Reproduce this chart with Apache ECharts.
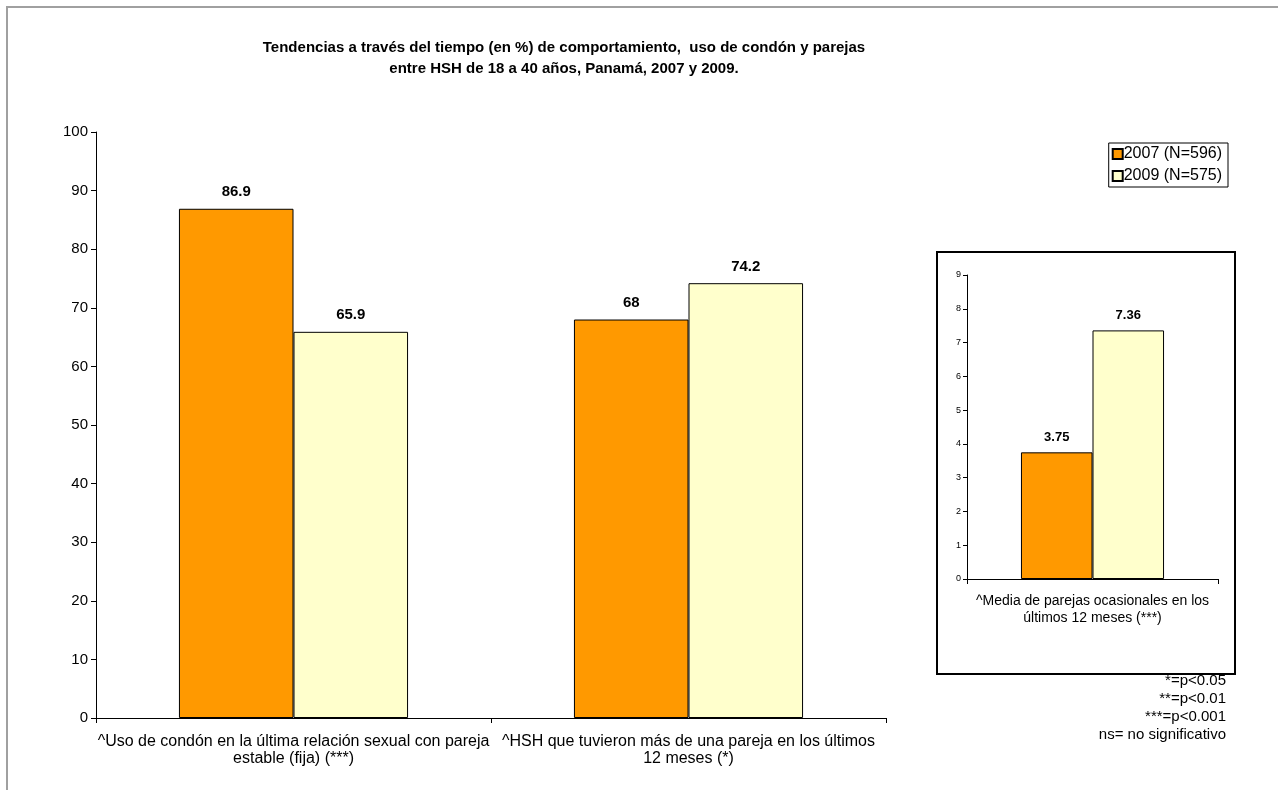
<!DOCTYPE html>
<html style="height: 100%">
<head>
    <meta charset="utf-8">
    <script src="https://cdn.jsdelivr.net/npm/echarts@6/dist/echarts.min.js"></script>
</head>
<body style="height: 100%;margin: 0;background: #fff">
<div id="chart1" style="width: 1278px; height: 790px;"></div>
<script type="text/javascript">
// datos del grafico principal
var categorias = ['^Uso de condón en la última relación sexual con pareja\nestable (fija) (***)',
    '^HSH que tuvieron más de una pareja en los últimos\n12 meses (*)'];
var valores2007 = [86.9, 68];
var valores2009 = [65.9, 74.2];
// recuadro: media de parejas
var categoriaMedia = ['^Media de parejas ocasionales en los\núltimos 12 meses (***)'];
var media2007 = [3.75];
var media2009 = [7.36];
var nombres = ['2007 (N=596)', '2009 (N=575)'];
var titulo = ['Tendencias a través del tiempo (en %) de comportamiento,  uso de condón y parejas',
    'entre HSH de 18 a 40 años, Panamá, 2007 y 2009.'];
var notas = ['*=p<0.05', '**=p<0.01', '***=p<0.001', 'ns= no significativo'];

var fuente = 'Liberation Sans, Arial, sans-serif';
var naranja = '#FF9900', crema = '#FFFFCC';

var myChart = echarts.init(document.getElementById('chart1'));

var tituloGraphic = titulo.map(function (t, i) {
    return {
        type: 'text', x: 564, y: 40 + i * 21, silent: true,
        style: {text: t, font: 'bold 15px ' + fuente, fill: '#000', textAlign: 'center', textVerticalAlign: 'top'}
    };
});
var notasGraphic = notas.map(function (t, i) {
    return {
        type: 'text', x: 1226, y: 673 + i * 18, silent: true,
        style: {text: t, font: '15px ' + fuente, fill: '#000', textAlign: 'right', textVerticalAlign: 'top'}
    };
});

var option = {
    animation: false,
    textStyle: {fontFamily: fuente},
    legend: {
        data: nombres,
        orient: 'vertical',
        right: 50, top: 143,
        itemWidth: 10, itemHeight: 10, itemGap: 6,
        padding: [3, 6, 3, 3],
        borderColor: '#000', borderWidth: 1,
        icon: 'rect',
        textStyle: {fontSize: 16, color: '#000', fontFamily: fuente, padding: [0, 0, 0, -4]}
    },
    graphic: [
        {
            type: 'rect', x: 7, y: 7, silent: true,
            shape: {width: 1300, height: 800},
            style: {fill: 'none', stroke: '#a0a0a0', lineWidth: 2}
        },
        {
            type: 'rect', x: 937, y: 252, silent: true,
            shape: {width: 298, height: 422},
            style: {fill: 'none', stroke: '#000', lineWidth: 2}
        }
    ].concat(tituloGraphic, notasGraphic),
    grid: [
        {left: 96, right: 392, top: 132, bottom: 72},
        {left: 967, right: 60, top: 275, bottom: 211}
    ],
    xAxis: [
        {
            type: 'category', gridIndex: 0, data: categorias,
            axisLine: {lineStyle: {color: '#000', width: 1}},
            axisTick: {show: true, length: 5, lineStyle: {color: '#000'}},
            axisLabel: {color: '#000', fontSize: 16, lineHeight: 17, margin: 15, interval: 0}
        },
        {
            type: 'category', gridIndex: 1, data: categoriaMedia,
            axisLine: {lineStyle: {color: '#000', width: 1}},
            axisTick: {show: true, length: 5, lineStyle: {color: '#000'}},
            axisLabel: {color: '#000', fontSize: 14, lineHeight: 17, margin: 14, interval: 0}
        }
    ],
    yAxis: [
        {
            type: 'value', gridIndex: 0, min: 0, max: 100, interval: 10,
            axisLine: {show: true, lineStyle: {color: '#000'}},
            axisTick: {show: true, length: 5, lineStyle: {color: '#000'}},
            axisLabel: {color: '#000', fontSize: 15, margin: 8},
            splitLine: {show: false}
        },
        {
            type: 'value', gridIndex: 1, min: 0, max: 9, interval: 1,
            axisLine: {show: true, lineStyle: {color: '#000'}},
            axisTick: {show: true, length: 4, lineStyle: {color: '#000'}},
            axisLabel: {color: '#000', fontSize: 9, margin: 6},
            splitLine: {show: false}
        }
    ],
    series: [
        {
            name: nombres[0], type: 'bar', xAxisIndex: 0, yAxisIndex: 0,
            data: valores2007, barGap: '0%', barCategoryGap: '42%',
            itemStyle: {color: naranja, borderColor: '#000', borderWidth: 1},
            label: {show: true, position: 'top', distance: 9, fontSize: 15, fontWeight: 'bold', color: '#000'}
        },
        {
            name: nombres[1], type: 'bar', xAxisIndex: 0, yAxisIndex: 0,
            data: valores2009, barGap: '0%', barCategoryGap: '42%',
            itemStyle: {color: crema, borderColor: '#000', borderWidth: 1},
            label: {show: true, position: 'top', distance: 9, fontSize: 15, fontWeight: 'bold', color: '#000'}
        },
        {
            name: nombres[0], type: 'bar', xAxisIndex: 1, yAxisIndex: 1,
            data: media2007, barGap: '0%', barCategoryGap: '43%',
            itemStyle: {color: naranja, borderColor: '#000', borderWidth: 1},
            label: {show: true, position: 'top', distance: 8, fontSize: 13, fontWeight: 'bold', color: '#000'}
        },
        {
            name: nombres[1], type: 'bar', xAxisIndex: 1, yAxisIndex: 1,
            data: media2009, barGap: '0%', barCategoryGap: '43%',
            itemStyle: {color: crema, borderColor: '#000', borderWidth: 1},
            label: {show: true, position: 'top', distance: 8, fontSize: 13, fontWeight: 'bold', color: '#000'}
        }
    ]
};
myChart.setOption(option);
</script>
</body>
</html>
